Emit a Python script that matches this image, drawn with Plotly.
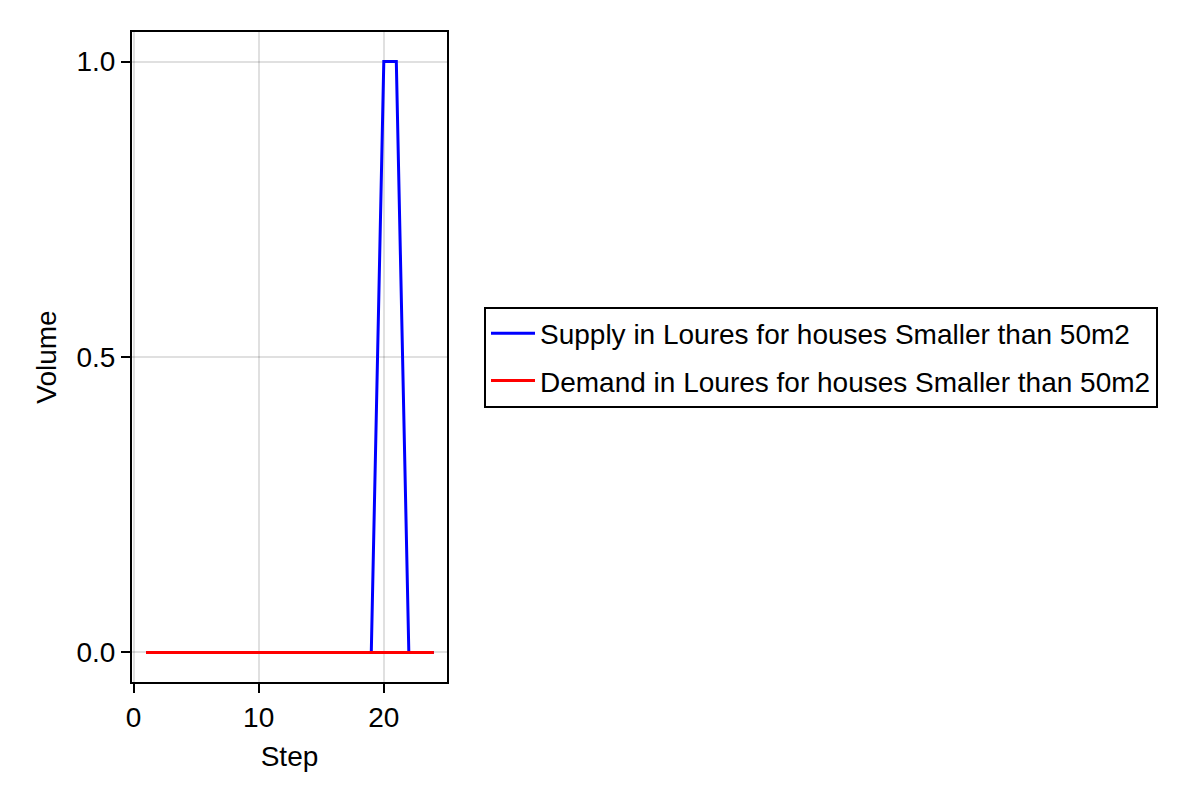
import plotly.graph_objects as go

steps = list(range(1, 25))
supply = [0, 0, 0, 0, 0, 0, 0, 0, 0, 0, 0, 0, 0, 0, 0, 0, 0, 0, 0, 1, 1, 0, 0, 0]
demand = [0] * 24

x_ticks = [0, 10, 20]
y_ticks = [0.0, 0.5, 1.0]

font = "Liberation Sans, Arial, sans-serif"

fig = go.Figure()
fig.add_trace(go.Scatter(
    x=steps, y=supply, mode="lines",
    name="Supply in Loures for houses Smaller than 50m2",
    line=dict(color="#0000ff", width=3),
    legendgroup="s",
))
fig.add_trace(go.Scatter(
    x=steps, y=demand, mode="lines",
    name="Demand in Loures for houses Smaller than 50m2",
    line=dict(color="#ff0000", width=3),
    legendgroup="d",
))

axis_common = dict(
    showline=True, linecolor="black", linewidth=2, mirror=True,
    ticks="outside", ticklen=9, tickwidth=2, tickcolor="black",
    showgrid=True, gridcolor="rgba(0,0,0,0.12)", gridwidth=2,
    zeroline=False,
    tickfont=dict(size=28, color="black", family=font),
)

# page body adds an 8px offset, so margins are shifted by that
fig.update_layout(
    width=1200, height=800,
    margin=dict(l=124, r=761, t=24, b=126, autoexpand=False),
    plot_bgcolor="white", paper_bgcolor="white",
    font=dict(family=font, size=28, color="black"),
    xaxis=dict(
        axis_common, range=[-0.12, 25.05], tickvals=x_ticks, automargin=False,
        title=dict(text="Step", font=dict(size=28)),
    ),
    yaxis=dict(
        axis_common, range=[-0.05, 1.05], tickvals=y_ticks, tickformat=".1f",
        automargin=True,
        title=dict(text="Volume", font=dict(size=28), standoff=12),
    ),
    legend=dict(
        x=(484 - 132) / 315, y=0.5, xanchor="left", yanchor="middle",
        bordercolor="black", borderwidth=2, bgcolor="white",
        font=dict(size=28, family=font, color="black"),
        tracegroupgap=8, itemwidth=44,
    ),
    showlegend=True,
)

fig.write_html("out.html")
